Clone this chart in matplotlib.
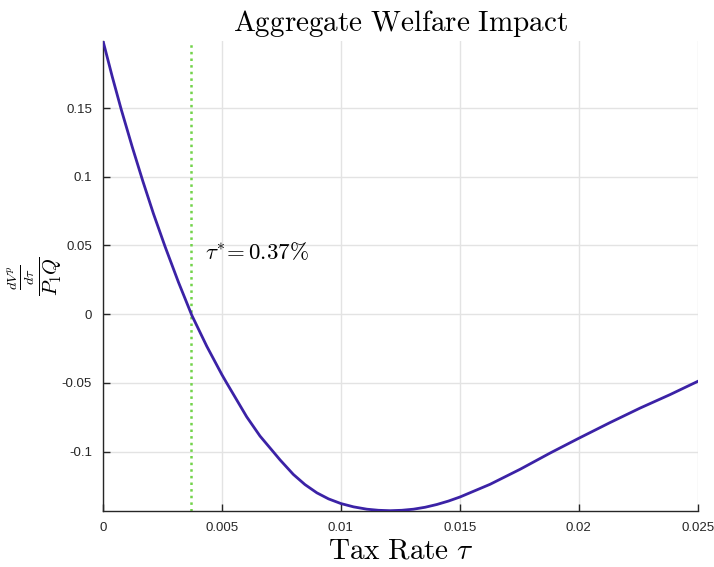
import numpy as np
import matplotlib
matplotlib.use('Agg')
import matplotlib.pyplot as plt

plt.rcParams['mathtext.fontset'] = 'cm'
plt.rcParams['font.family'] = ['Liberation Sans', 'DejaVu Sans']

# welfare derivative (normalised) against the tax rate
tax_rate = [0.0, 0.00039, 0.000765, 0.00123, 0.00167, 0.00212, 0.00261,
            0.00317, 0.00373, 0.00436, 0.005, 0.0052, 0.00604, 0.0066,
            0.00714, 0.00744, 0.008, 0.00849, 0.00899, 0.00948, 0.01,
            0.01053, 0.01109, 0.01158, 0.01207, 0.01256, 0.01305, 0.01354,
            0.01403, 0.01452, 0.01501, 0.01627, 0.01754, 0.0188, 0.02,
            0.0213, 0.02258, 0.02384, 0.025]
welfare = [0.1988, 0.1727, 0.1490, 0.1216, 0.0970, 0.0731, 0.0491,
           0.0233, -0.0007, -0.0233, -0.0441, -0.0501, -0.0747, -0.0887,
           -0.0998, -0.1060, -0.1166, -0.1240, -0.1300, -0.1344, -0.1378,
           -0.1402, -0.1419, -0.1427, -0.1430, -0.1427, -0.1419, -0.1405,
           -0.1385, -0.1360, -0.1330, -0.1238, -0.1128, -0.1010, -0.0903,
           -0.0790, -0.0683, -0.0585, -0.0489]
tau_star = 0.0037

xticks = [0, 0.005, 0.01, 0.015, 0.02, 0.025]
xticklabels = ['0', '0.005', '0.01', '0.015', '0.02', '0.025']
yticks = [-0.1, -0.05, 0, 0.05, 0.1, 0.15]
yticklabels = ['-0.1', '-0.05', '0', '0.05', '0.1', '0.15']

fig = plt.figure(figsize=(7.14, 5.67), dpi=100)
ax = fig.add_axes([0.1443, 0.0993, 0.8329, 0.8284])

ax.plot(tax_rate, welfare, color='#3b22a6', linewidth=2.0, zorder=3,
        solid_joinstyle='round')
ax.axvline(tau_star, color='#72d34a', linestyle=':', linewidth=1.8, zorder=2)
ax.text(tau_star + 0.0006, 0.045, r'$\tau^{*}\! = 0.37\%$', fontsize=16.5,
        va='center', ha='left')

ax.set_xlim(0, 0.025)
ax.set_ylim(min(welfare), max(welfare))
ax.set_xticks(xticks)
ax.set_xticklabels(xticklabels)
ax.set_yticks(yticks)
ax.set_yticklabels(yticklabels)

ax.grid(True, color='#e3e3e3', linewidth=1.0)
ax.set_axisbelow(True)
for s in ['top', 'right']:
    ax.spines[s].set_visible(False)
for s in ['left', 'bottom']:
    ax.spines[s].set_color('#262626')
    ax.spines[s].set_linewidth(1.0)
ax.tick_params(direction='in', length=5, width=1, colors='#262626',
               labelsize=9.5, pad=8)

ax.set_title(r'$\mathrm{Aggregate\ Welfare\ Impact}$', fontsize=21, pad=7)
ax.set_xlabel(r'$\mathrm{Tax\ Rate}\ \tau$', fontsize=21, labelpad=2)
ax.set_ylabel(r'$\frac{\frac{dV^p}{d\tau}}{P_1 Q}$', fontsize=21)
ax.yaxis.set_label_coords(-0.064, 0.5)

fig.savefig('out.png', dpi=100)
